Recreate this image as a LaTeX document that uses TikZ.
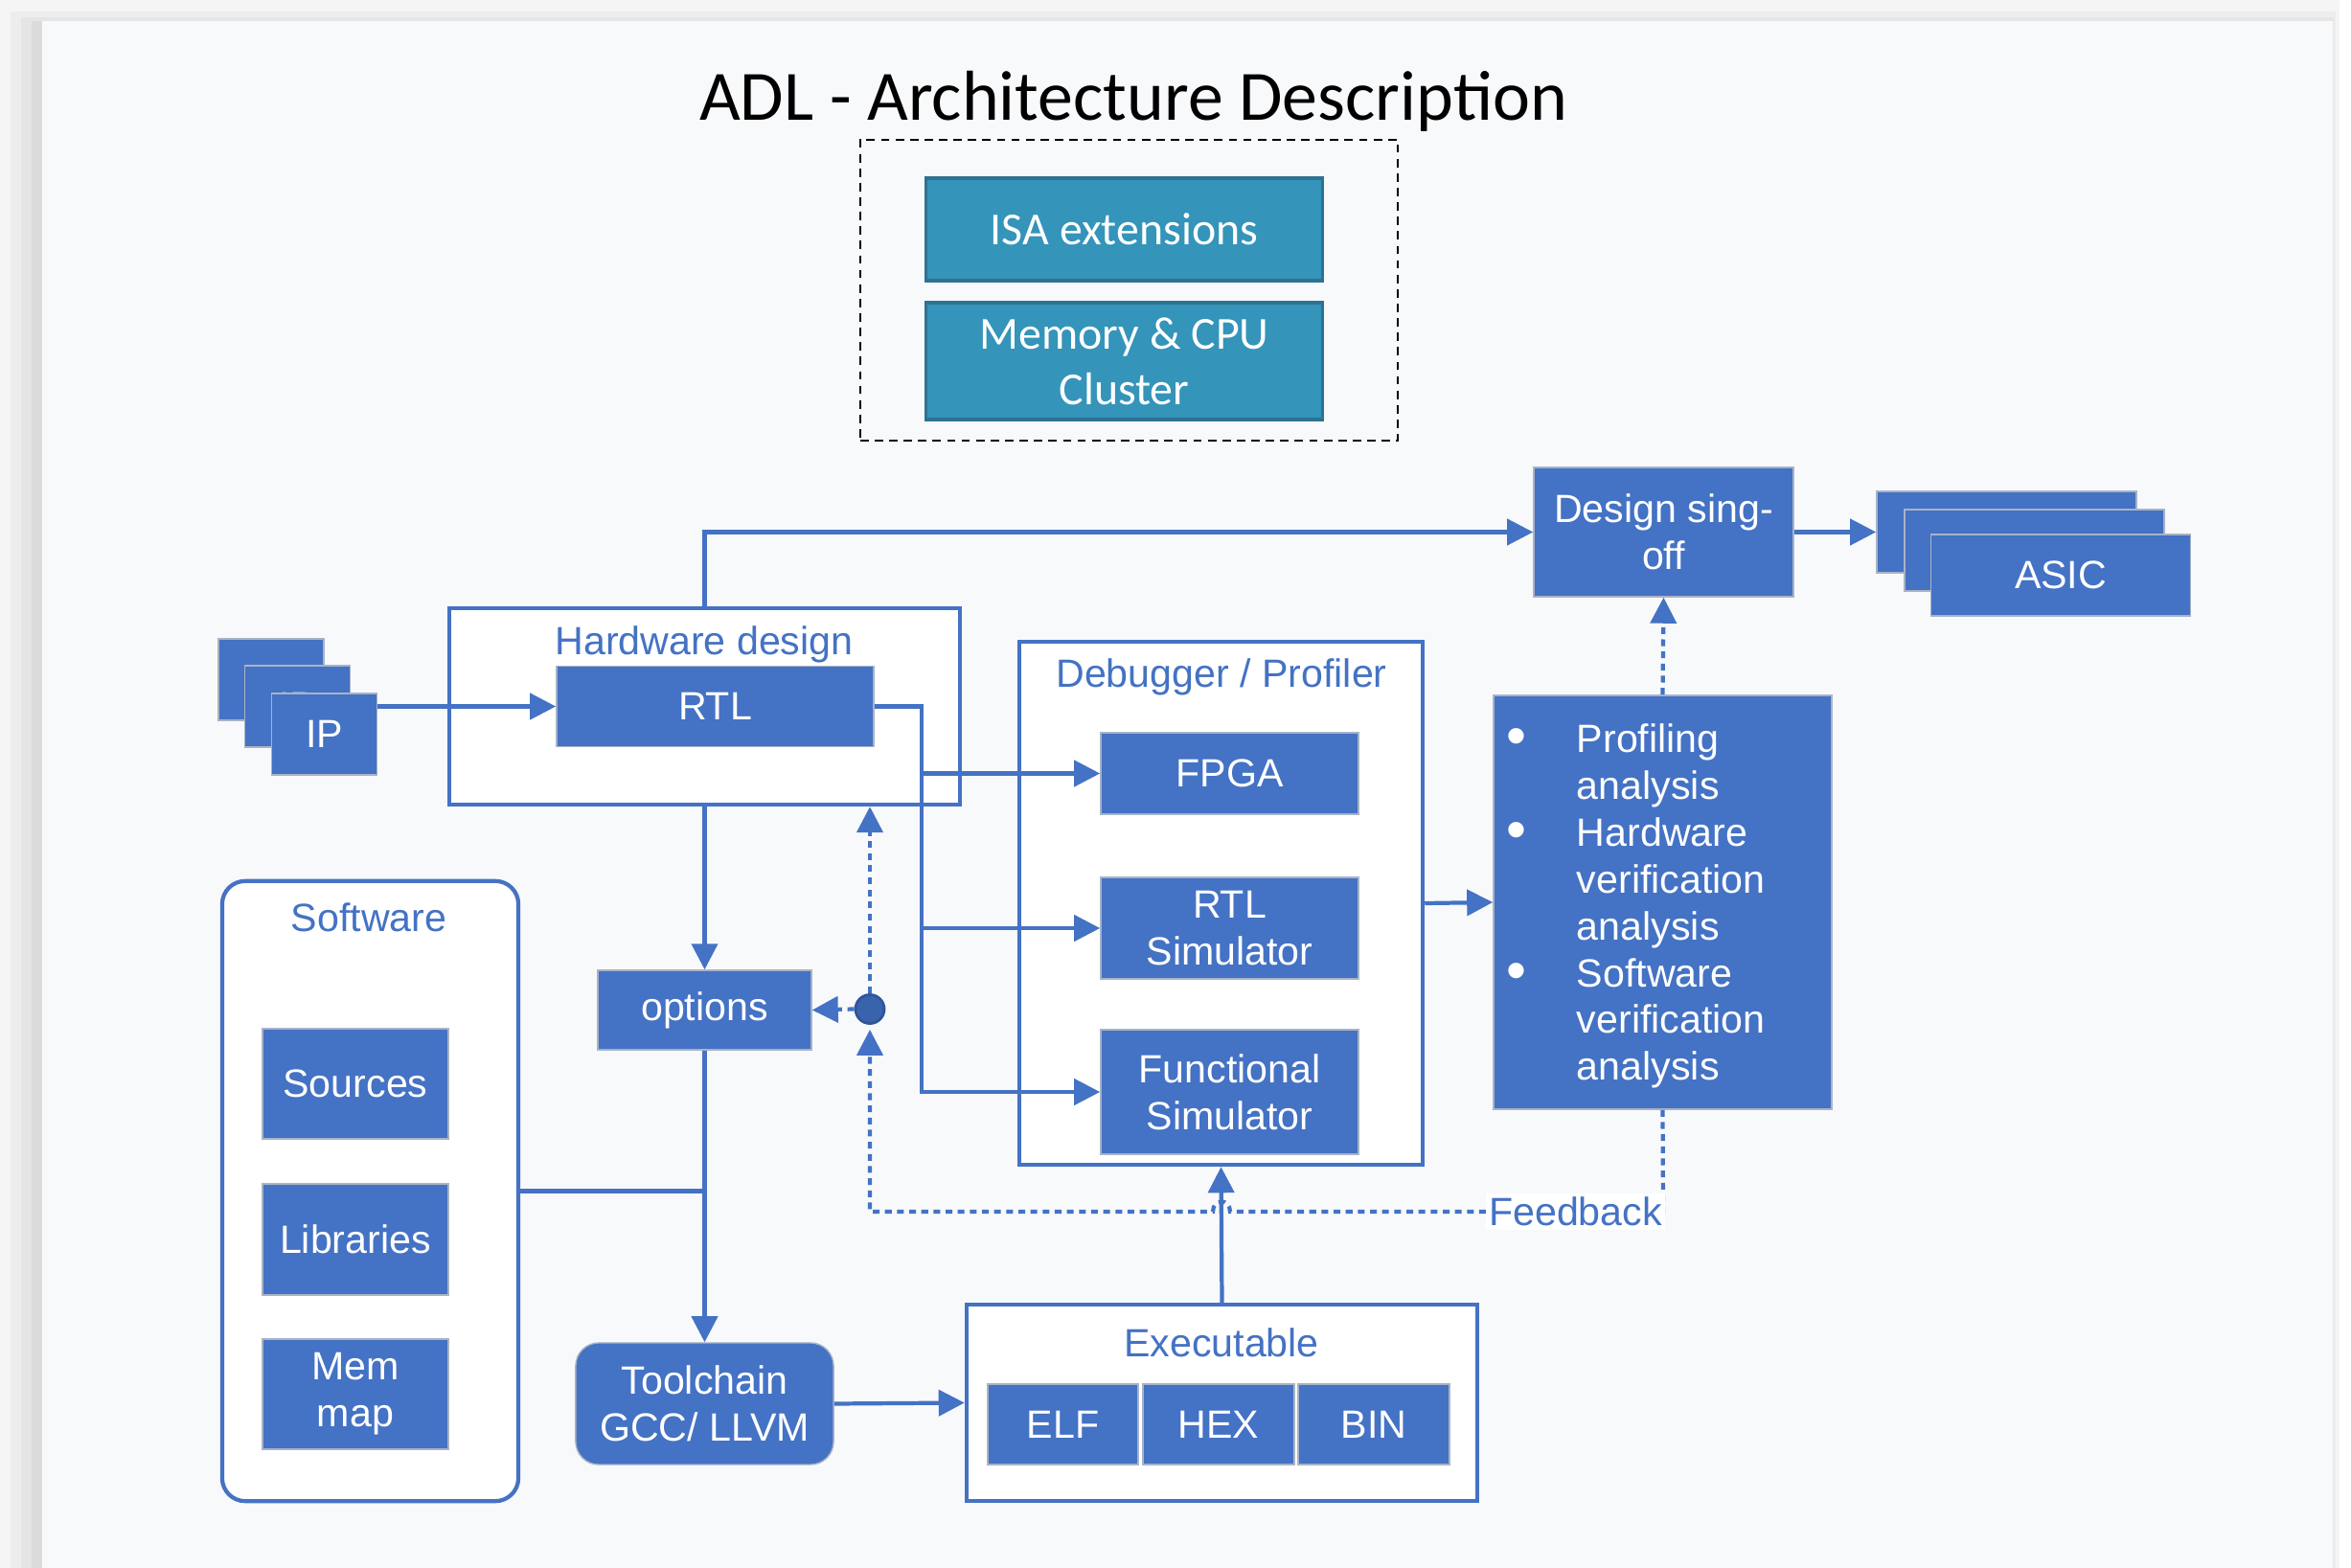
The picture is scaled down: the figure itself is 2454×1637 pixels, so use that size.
\documentclass[tikz,border=0pt]{standalone}
\usepackage{fontspec}
\setmainfont{Liberation Sans}
\newfontfamily\calfont{Carlito}
\usepackage{tikz}
\usetikzlibrary{arrows.meta}
\usetikzlibrary{positioning}

\definecolor{offblue}{HTML}{4472C4}
\definecolor{boxedge}{HTML}{A9B3C6}
\definecolor{adlteal}{HTML}{3494BA}
\definecolor{tealdark}{HTML}{2C7391}
\definecolor{dotblue}{HTML}{3A63AE}
\definecolor{dotedge}{HTML}{2F559A}
\definecolor{panel}{HTML}{F8F9FB}

\newcommand{\boxfont}{\fontsize{11.7pt}{13.9pt}\selectfont}
\newcommand{\bigbull}{\raisebox{-0.15ex}{\fontsize{17pt}{13.9pt}\selectfont\textbullet}}

\tikzset{>={Triangle[length=0.27cm,width=0.27cm]},
  bluebox/.style={draw=boxedge, line width=0.4pt, fill=offblue, text=white,
    inner sep=0pt, align=center, font=\boxfont},
  tealbox/.style={draw=tealdark, line width=0.9pt, fill=adlteal, text=white,
    inner sep=0pt, align=center, font={\calfont\fontsize{13.6pt}{16.5pt}\selectfont}},
  frame/.style={draw=offblue, line width=1.2pt, fill=white, inner sep=0pt},
  ttl/.style={text=offblue, font=\boxfont, inner sep=0pt},
  conn/.style={draw=offblue, line width=1.2pt},
  fb/.style={conn, dash pattern=on 2pt off 1.6pt},
  dotnode/.style={circle, fill=dotblue, draw=dotedge, line width=0.8pt,
    minimum size=0.3cm, inner sep=0pt},
  fblabel/.style={fill=white, text=offblue, font=\boxfont, inner sep=1pt}}

\begin{document}
\begin{tikzpicture}[x=0.01cm, y=-0.01cm]

  % page and panel
  \fill[white] (0,0) rectangle (2454,1637);
  \fill[black!4] (0,0) rectangle (2442,1637);
  \fill[black!7] (11,12) rectangle (2438,1637);
  \fill[black!10] (22,18) rectangle (2436,1637);
  \fill[black!14] (33,22) rectangle (2435,1637);
  \fill[panel] (44,22) rectangle (2435,1637);
  \useasboundingbox (0,0) rectangle (2454,1637);

  % architecture description
  \node[font={\calfont\fontsize{21pt}{25pt}\selectfont}, inner sep=0pt] (title) at (1183,106) {ADL - Architecture Description};
  \node[draw, dash pattern=on 2.5pt off 1.8pt, line width=0.6pt, minimum width=5.61cm, minimum height=3.14cm, inner sep=0pt] (adl) at (1178.5,303) {};
  \node[tealbox, minimum width=4.13cm, minimum height=1.07cm] (isa) at (1173.5,239.5) {ISA extensions};
  \node[tealbox, minimum width=4.13cm, minimum height=1.22cm] (memcpu) at (1173.5,377) {Memory \& CPU\\Cluster};

  % containers
  \node[frame, minimum width=5.33cm, minimum height=2.05cm] (hw) at (735.5,737.5) {};
  \node[frame, minimum width=4.21cm, minimum height=5.46cm] (dbg) at (1274.5,943) {};
  \node[frame, rounded corners=0.24cm, minimum width=3.09cm, minimum height=6.47cm] (sw) at (386.5,1243.5) {};
  \node[frame, minimum width=5.33cm, minimum height=2.05cm] (exe) at (1275.5,1464.5) {};

  \node[ttl] (hwttl) at (735,673) {Hardware design};
  \node[ttl] (dbgttl) at (1275,707) {Debugger / Profiler};
  \node[ttl] (swttl) at (385,958) {Software};
  \node[ttl] (exettl) at (1275,1402) {Executable};

  % IP stack
  \node[bluebox, minimum width=1.1cm, minimum height=0.85cm] (ip1) at (283,709.5) {IP};
  \node[bluebox, minimum width=1.1cm, minimum height=0.85cm] (ip2) at (310.5,737.5) {IP};
  \node[bluebox, minimum width=1.1cm, minimum height=0.85cm] (ip3) at (338.5,766.5) {IP};

  % ASIC stack
  \node[bluebox, minimum width=2.71cm, minimum height=0.85cm] (asic1) at (2094.5,555.5) {ASIC};
  \node[bluebox, minimum width=2.71cm, minimum height=0.85cm] (asic2) at (2123.5,574.5) {ASIC};
  \node[bluebox, minimum width=2.71cm, minimum height=0.85cm] (asic3) at (2151,600.5) {ASIC};

  \node[bluebox, minimum width=2.71cm, minimum height=1.35cm] (signoff) at (1736.5,555.5) {Design sing-\\off};

  \node[bluebox, minimum width=3.31cm, minimum height=0.84cm] (rtl) at (746.5,737.5) {RTL};
  \node[bluebox, minimum width=2.23cm, minimum height=0.83cm] (opt) at (735.5,1054.5) {options};
  \node[bluebox, rounded corners=0.24cm, minimum width=2.69cm, minimum height=1.27cm] (tool) at (735.5,1465.5) {Toolchain\\GCC/ LLVM};

  \node[bluebox, minimum width=2.69cm, minimum height=0.85cm] (fpga) at (1283.5,807.5) {FPGA};
  \node[bluebox, minimum width=2.69cm, minimum height=1.06cm] (rsim) at (1283.5,969) {RTL\\Simulator};
  \node[bluebox, minimum width=2.69cm, minimum height=1.30cm] (fsim) at (1283.5,1140) {Functional\\Simulator};

  \node[bluebox, minimum width=1.94cm, minimum height=1.15cm] (src) at (371,1131.5) {Sources};
  \node[bluebox, minimum width=1.94cm, minimum height=1.16cm] (libs) at (371,1294) {Libraries};
  \node[bluebox, minimum width=1.94cm, minimum height=1.15cm] (memmap) at (371,1455.5) {Mem\\map};

  \node[bluebox, minimum width=1.57cm, minimum height=0.84cm] (elf) at (1109.5,1487) {ELF};
  \node[bluebox, minimum width=1.58cm, minimum height=0.84cm] (hex) at (1272,1487) {HEX};
  \node[bluebox, minimum width=1.58cm, minimum height=0.84cm] (bin) at (1434,1487) {BIN};

  % analysis
  \node[bluebox, minimum width=3.53cm, minimum height=4.32cm] (ana) at (1735.5,942) {};
  \node[anchor=west, text=white, font=\boxfont, inner sep=0pt] (anatxt) at ([xshift=0.14cm,yshift=-0.05cm]ana.west) {%
    \begin{tabular}{@{}p{0.73cm}@{}l@{}}
      \bigbull & Profiling\\
               & analysis\\
      \bigbull & Hardware\\
               & verification\\
               & analysis\\
      \bigbull & Software\\
               & verification\\
               & analysis
    \end{tabular}};

  % connectors
  \coordinate (bus) at (962,737.5);
  \draw[conn,->] (rtl.west -| ip3.east) -- (rtl.west);
  \draw[conn,->] (hw.north) |- (signoff.west);
  \draw[conn,->] (signoff.east) -- (asic1.west);
  \draw[conn,->] (rtl.east) -- (bus) |- (fsim.west);
  \draw[conn,->] (bus |- fpga.west) -- (fpga.west);
  \draw[conn,->] (bus |- rsim.west) -- (rsim.west);
  \draw[conn,->] (dbg.east) -- (ana.west);
  \draw[conn,->] (hw.south) -- (opt.north);
  \draw[conn,->] (opt.south) -- (tool.north);
  \draw[conn] (sw.east) -- (sw.east -| opt.south);
  \draw[conn,->] (tool.east) -- (exe.west);
  \draw[conn,->] (exe.north) -- (dbg.south);
  \draw[fb,->] (ana.north) -- (signoff.south);

  % feedback
  \node[dotnode] (dot) at (908,1053.5) {};
  \coordinate (fbk) at (1736,1265);
  \draw[fb,->, shorten >=0.05cm] (ana.south) -- (fbk) -- (1284,1265)
    .. controls (1284,1251) and (1266,1251) .. (1266,1265) -- (dot |- fbk) -- (dot.south);
  \draw[fb,->] (dot.north) -- (dot |- hw.south);
  \draw[fb,->] (dot.west) -- (opt.east);
  \node[fblabel, anchor=east] (fbl) at ([xshift=0.03cm]fbk) {Feedback};

\end{tikzpicture}
\end{document}
